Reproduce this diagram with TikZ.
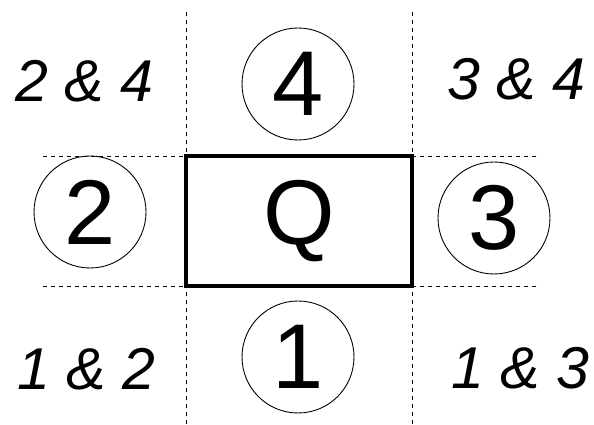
\documentclass[tikz,border=0pt]{standalone}
\usepackage{fontspec}
\setmainfont{Liberation Sans}
\begin{document}
\begin{tikzpicture}[x=1pt,y=1pt,
  region/.style={draw=black, line width=0.9pt, circle, minimum size=112pt, inner sep=0pt,
    font=\fontsize{92}{92}\selectfont},
  mainbox/.style={draw=black, line width=3.8pt, minimum width=226pt, minimum height=130pt,
    inner sep=0pt, font=\fontsize{92}{92}\selectfont},
  guide/.style={draw=black, line width=0.9pt, dash pattern=on 4pt off 4pt},
  corner/.style={anchor=base, inner sep=0pt, font=\fontsize{59}{59}\selectfont\itshape}]
\useasboundingbox (0,0) rectangle (594,425);
% guide end points
\coordinate (tl) at (186,413);
\coordinate (bl) at (186,0);
\coordinate (tr) at (412,413);
\coordinate (br) at (412,0);
\coordinate (lt) at (43,269);
\coordinate (lb) at (43,139);
\coordinate (rt) at (540,269);
\coordinate (rb) at (540,139);
% dashed guides
\draw[guide] (tl) -- (bl);
\draw[guide] (tr) -- (br);
\draw[guide] (lt) -- (186,269);
\draw[guide] (lb) -- (186,139);
\draw[guide] (412,269) -- (rt);
\draw[guide] (412,139) -- (rb);
% main box
\node[mainbox] (Q) at (299,204) {Q};
% circled regions
\node[region] (c4) at (298,341) {4};
\node[region] (c2) at (90,213) {2};
\node[region] (c3) at (494,207) {3};
\node[region] (c1) at (298,68) {1};
% corner labels
\node[corner] (t24) at (84,323) {2 \& 4};
\node[corner] (t34) at (516,325) {3 \& 4};
\node[corner] (t12) at (86,35) {1 \& 2};
\node[corner] (t13) at (520,36) {1 \& 3};
\end{tikzpicture}
\end{document}
